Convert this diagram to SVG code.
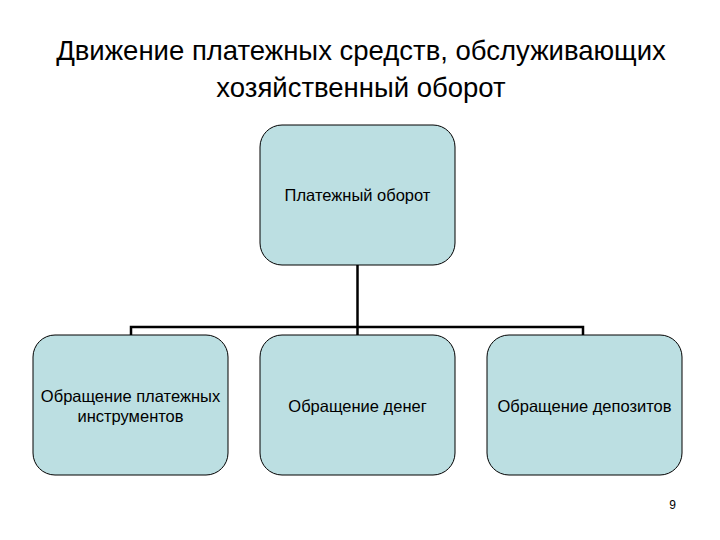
<svg xmlns="http://www.w3.org/2000/svg" width="720" height="540" viewBox="0 0 720 540">
<style>
.box{fill:#bcdfe2;stroke:#000;stroke-width:1}
.t{font-family:"Liberation Sans",Arial,sans-serif;font-size:16.5px;fill:#000;text-anchor:middle}
.h{font-family:"Liberation Sans",Arial,sans-serif;font-size:27.5px;fill:#000;text-anchor:middle}
.c{fill:none;stroke:#000;stroke-width:2.5}
</style>
<rect width="720" height="540" fill="#fff"/>
<text class="h" x="361" y="60">Движение платежных средств, обслуживающих</text>
<text class="h" x="361" y="97">хозяйственный оборот</text>
<g id="connectors">
<path class="c" d="M357.5 265V335"/>
<path class="c" d="M131 336V327H583V336"/>
</g>
<g id="root"><rect class="box" x="260" y="125" width="195" height="140" rx="22"/><text class="t" x="357.5" y="201">Платежный оборот</text></g>
<g id="n1"><rect class="box" x="33" y="335" width="195" height="140" rx="22"/><text class="t" x="130.5" y="402">Обращение платежных</text><text class="t" x="130.5" y="422">инструментов</text></g>
<g id="n2"><rect class="box" x="260" y="335" width="195" height="140" rx="22"/><text class="t" x="357.5" y="412">Обращение денег</text></g>
<g id="n3"><rect class="box" x="487" y="335" width="195" height="140" rx="22"/><text class="t" x="584.5" y="412">Обращение депозитов</text></g>
<text x="676" y="509" font-family="Liberation Sans,Arial,sans-serif" font-size="12" text-anchor="end">9</text>
</svg>
